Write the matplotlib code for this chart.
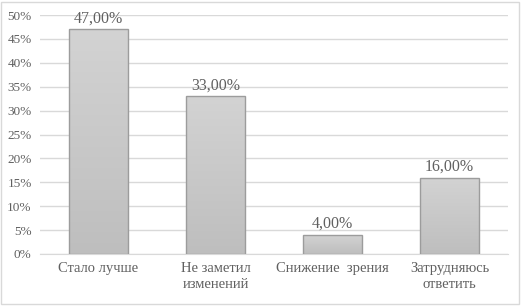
import matplotlib.pyplot as plt
import numpy as np
from matplotlib.ticker import PercentFormatter
from matplotlib.colors import LinearSegmentedColormap

plt.rcParams['font.family'] = ['Liberation Serif', 'DejaVu Serif']

categories = ['Стало лучше', 'Не заметил\nизменений', 'Снижение  зрения', 'Затрудняюсь\nответить']
values = [47.0, 33.0, 4.0, 16.0]
yticks = [0, 5, 10, 15, 20, 25, 30, 35, 40, 45, 50]

text_color = '#606060'

fig = plt.figure(figsize=(5.22, 3.06), dpi=100)
ax = fig.add_axes([40 / 522, 52 / 306, 468 / 522, 239 / 306])

x = np.arange(len(categories))
bars = ax.bar(x, values, width=0.5, facecolor='none', edgecolor='#9c9c9c', linewidth=1, zorder=3)

# vertical gradient inside every bar
grad = np.linspace(0, 1, 256).reshape(-1, 1)
cmap = LinearSegmentedColormap.from_list('g', ['#bebebe', '#d3d3d3'])
for b in bars:
    x0, w, h = b.get_x(), b.get_width(), b.get_height()
    im = ax.imshow(grad, cmap=cmap, aspect='auto', origin='lower',
                   extent=[x0, x0 + w, 0, h], zorder=2)
    im.set_clip_path(b)

for xi, v in zip(x, values):
    ax.text(xi, v + 0.6, f'{v:.2f}%'.replace('.', ','), ha='center', va='bottom',
            fontsize=11.5, color=text_color)

ax.set_xlim(-0.5, len(categories) - 0.5)
ax.set_ylim(0, 50)
ax.set_yticks(yticks)
ax.yaxis.set_major_formatter(PercentFormatter(decimals=0))
ax.set_xticks(x)
ax.set_xticklabels(categories, fontsize=10.5, color=text_color, linespacing=1.3)
ax.tick_params(axis='y', labelsize=9.5, labelcolor=text_color, length=0, pad=6)
ax.tick_params(axis='x', length=0, pad=6)
ax.grid(axis='y', color='#d9d9d9', linewidth=1, zorder=0)
ax.set_axisbelow(True)
for s in ax.spines.values():
    s.set_visible(False)
ax.spines['bottom'].set_visible(True)
ax.spines['bottom'].set_color('#d9d9d9')

# outer chart frame
fig.patches.append(plt.Rectangle((1 / 522, 2 / 306), 518 / 522, 302 / 306, transform=fig.transFigure,
                                 fill=False, edgecolor='#d9d9d9', linewidth=1))

fig.savefig('out.png', dpi=100)
